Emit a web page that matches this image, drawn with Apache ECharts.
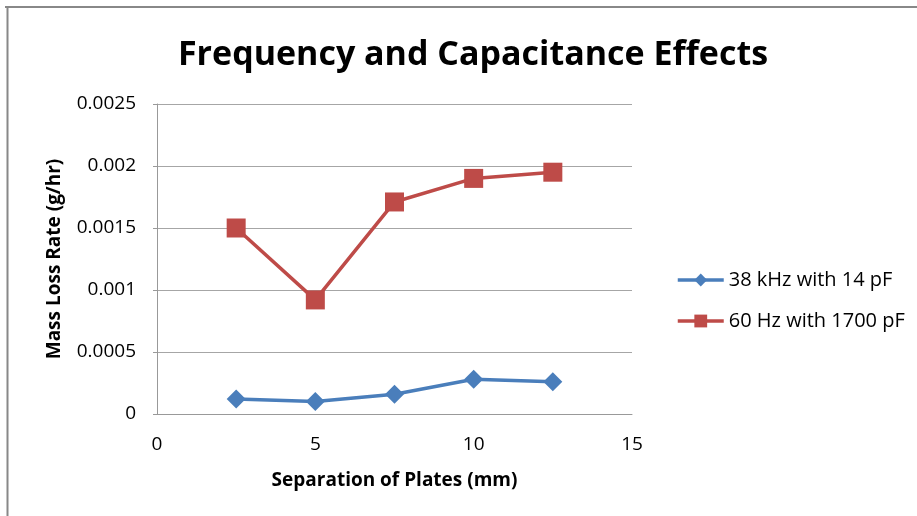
<!DOCTYPE html>
<html><head><meta charset="utf-8">
<script src="https://cdn.jsdelivr.net/npm/echarts@6/dist/echarts.min.js"></script>
<style>html,body{margin:0;padding:0;background:#fff}#c{width:917px;height:516px}</style>
</head><body><div id="c"></div>
<script>
const separation = [2.5, 5, 7.5, 10, 12.5];
const khz38 = [0.00012, 0.0001, 0.00016, 0.00028, 0.00026];
const hz60 = [0.0015, 0.00092, 0.00171, 0.0019, 0.00195];
const seriesNames = ['38 kHz with 14 pF', '60 Hz with 1700 pF'];
const yTicks = ['0', '0.0005', '0.001', '0.0015', '0.002', '0.0025'];
const FONT = '"Open Sans", sans-serif';

const chart = echarts.init(document.getElementById('c'), null, {renderer: 'canvas'});
chart.setOption({
  animation: false,
  backgroundColor: '#fff',
  title: {
    text: 'Frequency and Capacitance Effects',
    left: 468, top: 33, textAlign: 'center',
    textStyle: {fontFamily: FONT, fontSize: 34, fontWeight: 'bold', color: '#000'}
  },
  graphic: [
    {type: 'line', shape: {x1: 5, y1: 7, x2: 917, y2: 7}, style: {stroke: '#888', lineWidth: 2}},
    {type: 'line', shape: {x1: 7.5, y1: 7, x2: 7.5, y2: 516}, style: {stroke: '#888', lineWidth: 2}}
  ],
  grid: {left: 157, right: 285, top: 104, bottom: 102},
  legend: {
    orient: 'vertical', left: 671, top: 265, itemGap: 21,
    itemWidth: 46, itemHeight: 16,
    lineStyle: {width: 3.5},
    textStyle: {fontFamily: FONT, fontSize: 20, color: '#000'},
    data: seriesNames
  },
  xAxis: {
    type: 'value', min: 0, max: 15, interval: 5,
    name: 'Separation of Plates (mm)', nameLocation: 'middle', nameGap: 57,
    nameTextStyle: {fontFamily: FONT, fontSize: 19, fontWeight: 'bold', color: '#000'},
    axisLine: {show: true, lineStyle: {color: '#999', width: 1}},
    axisTick: {show: false},
    splitLine: {show: false},
    axisLabel: {fontFamily: FONT, fontSize: 19, color: '#000', margin: 21}
  },
  yAxis: {
    type: 'value', min: 0, max: 0.0025, interval: 0.0005,
    name: 'Mass Loss Rate (g/hr)', nameLocation: 'middle', nameGap: 93, nameRotate: 90,
    nameTextStyle: {fontFamily: FONT, fontSize: 19, fontWeight: 'bold', color: '#000'},
    axisLine: {show: true, lineStyle: {color: '#999', width: 1}},
    axisTick: {show: true, length: 4, lineStyle: {color: '#999'}},
    splitLine: {show: true, lineStyle: {color: '#a6a6a6', width: 1}},
    axisLabel: {fontFamily: FONT, fontSize: 19, color: '#000', margin: 21,
      formatter: (v) => yTicks[Math.round(v / 0.0005)]}
  },
  series: [
    {
      name: seriesNames[0], type: 'line',
      data: separation.map((x, i) => [x, khz38[i]]),
      symbol: 'diamond', symbolSize: 19,
      lineStyle: {color: '#4A7EBB', width: 3.5},
      itemStyle: {color: '#4A7EBB'}
    },
    {
      name: seriesNames[1], type: 'line',
      data: separation.map((x, i) => [x, hz60[i]]),
      symbol: 'rect', symbolSize: 19,
      lineStyle: {color: '#BE4B48', width: 3.5},
      itemStyle: {color: '#BE4B48'}
    }
  ]
});
</script></body></html>
